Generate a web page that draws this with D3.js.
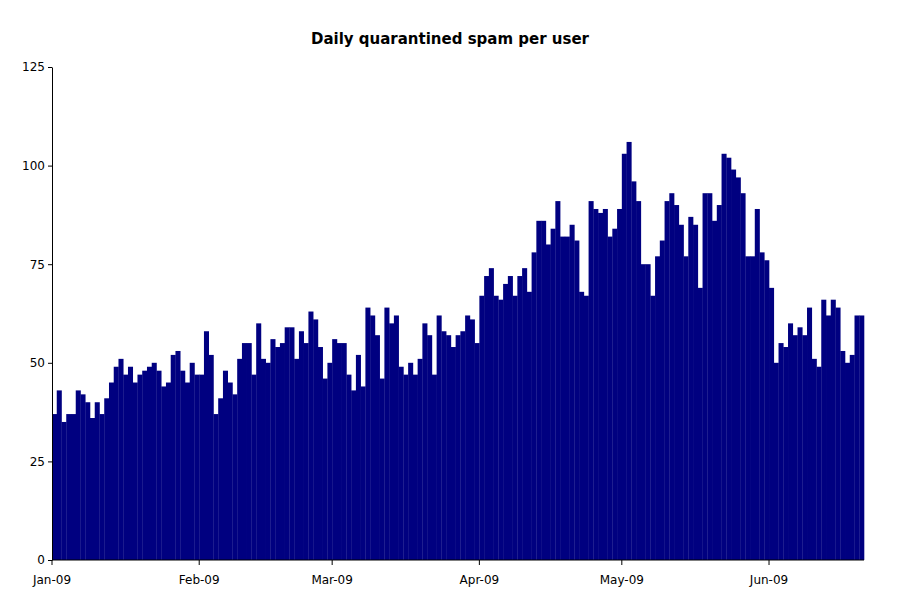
<!DOCTYPE html>
<html>
<head>
<meta charset="utf-8">
<script src="https://cdn.jsdelivr.net/npm/d3@7"></script>
<style>
body { margin: 0; background: #fff; }
text { font-family: "DejaVu Sans", sans-serif; }
</style>
</head>
<body>
<svg id="chart" width="900" height="615"></svg>
<script>
// daily values per month, Jan-Jun 2009
var jan = [37,43,35,37,37,43,42,40,36,40,37,41,45,49,51,47,49,45,47,48,49,50,48,44,45,52,53,48,45,50,47]
var feb = [47,58,52,37,41,48,45,42,51,55,55,47,60,51,50,56,54,55,59,59,51,58,55,63,61,54,46,50]
var mar = [56,55,55,47,43,52,44,64,62,57,46,64,60,62,49,47,50,47,51,60,57,47,62,58,57,54,57,58,62,61,55]
var apr = [67,72,74,67,66,70,72,67,72,74,68,78,86,86,80,84,91,82,82,85,81,68,67,91,89,88,89,82,84,89]
var may = [103,106,96,91,75,75,67,77,81,91,93,90,85,77,87,85,69,93,93,86,90,103,102,99,97,93,77,77,89,78,76]
var jun = [69,50,55,54,60,57,59,57,64,51,49,66,62,66,64,53,50,52,62,62]

var monthLabels = ["Jan-09","Feb-09","Mar-09","Apr-09","May-09","Jun-09"]
var yTicks = [0,25,50,75,100,125]

var months = [jan, feb, mar, apr, may, jun]
var values = [].concat(...months)
var monthStart = []
var acc = 0
months.forEach(m => { monthStart.push(acc); acc += m.length })

var margins = {left: 52, right: 36, top: 67, bottom: 55}
var W = 900, H = 615

var svg = d3.select("#chart")

var x = d3.scaleBand().domain(d3.range(values.length))
  .range([margins.left, W - margins.right]).padding(0)
var y = d3.scaleLinear().domain([0, 125]).range([H - margins.bottom, margins.top])

svg.append("g")
  .selectAll("rect")
  .data(values)
  .join("rect")
  .attr("x", (d, i) => x(i))
  .attr("width", x.bandwidth() + 0.3)
  .attr("y", d => y(d))
  .attr("height", d => y(0) - y(d))
  .attr("fill", "#000080")

// y axis
var yAxis = svg.append("g")
  .attr("transform", "translate(" + margins.left + ",0)")
  .call(d3.axisLeft(y).tickValues(yTicks).tickSize(4).tickSizeOuter(0))
yAxis.select(".domain").attr("stroke", "#000")
yAxis.selectAll("text").attr("font-size", 12).attr("fill", "#000")

// x axis, ticks at month starts
var xg = svg.append("g").attr("transform", "translate(0," + y(0) + ")")
xg.append("line").attr("x1", margins.left).attr("x2", W - margins.right)
  .attr("stroke", "#000")
xg.selectAll("line.tick").data(monthStart).join("line")
  .attr("class", "tick")
  .attr("x1", d => x(d)).attr("x2", d => x(d))
  .attr("y1", 0).attr("y2", 5).attr("stroke", "#000")
xg.selectAll("text").data(monthStart).join("text")
  .attr("x", d => x(d)).attr("y", 24)
  .attr("text-anchor", "middle").attr("font-size", 12)
  .text((d, i) => monthLabels[i])

svg.append("text")
  .attr("x", 450).attr("y", 44)
  .attr("text-anchor", "middle")
  .attr("font-size", 15).attr("font-weight", "bold")
  .text("Daily quarantined spam per user")
</script>
</body>
</html>
